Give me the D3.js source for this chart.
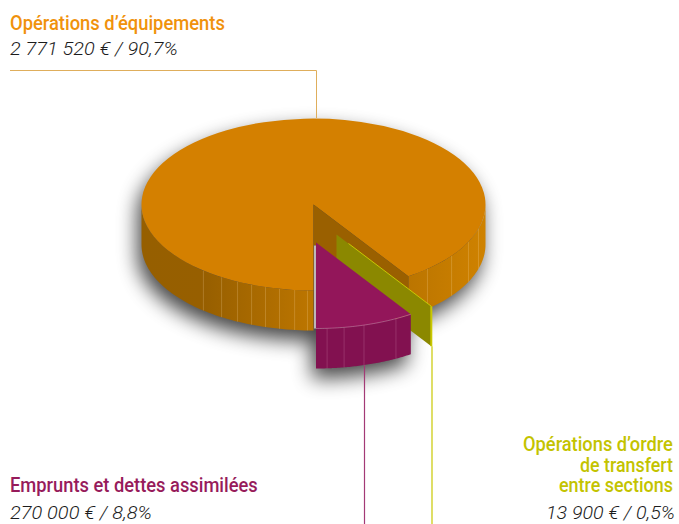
<!DOCTYPE html>
<html><head><meta charset="utf-8">
<script src="https://cdnjs.cloudflare.com/ajax/libs/d3/7.8.5/d3.min.js"></script>
<style>html,body{margin:0;background:#fff}svg{display:block}
text{font-family:Roboto,"Liberation Sans",sans-serif;font-weight:500}
.sub{font-family:Roboto,"Liberation Sans",sans-serif;font-style:italic;font-weight:300;font-size:19px;fill:#1c1c1c}</style>
</head><body><svg id="c" width="679" height="524"></svg>
<script>
// data
const categories = ["Opérations d’équipements","Opérations d’ordre de transfert entre sections","Emprunts et dettes assimilées"];
const values = [2771520, 13900, 270000];
const amountLabels = ["2 771 520 € / 90,7%","13 900 € / 0,5%","270 000 € / 8,8%"];
const orangeFacetsLeft = [219.8,212.3,206.2,201.1,196.2,191.4,186.3,182];
const orangeFacetsRight = [138.5,126.6,115.7,106.4];
const purpleFacets = [176.3,170.6,163.8,152.3];

const W=679,H=524,cx=313.5,cy=204.5,rx=172,ry=86,depth=40;
const off={orange:[0,0],green:[23,30],purple:[2.5,38]};
const svg=d3.select("#c");
const defs=svg.append("defs");
defs.append("filter").attr("id","blur").attr("x","-20%").attr("y","-20%").attr("width","140%").attr("height","140%")
  .append("feGaussianBlur").attr("stdDeviation",10);
const grad=(id,x1,x2,stops)=>{const g=defs.append("linearGradient").attr("id",id).attr("gradientUnits","userSpaceOnUse")
  .attr("x1",x1).attr("x2",x2).attr("y1",0).attr("y2",0);
  stops.forEach(([o,c])=>g.append("stop").attr("offset",o).attr("stop-color",c));};
grad("sideL",cx-rx,cx,[[0,"#965f00"],[.37,"#975f00"],[1,"#bd7600"]]);
grad("sideR",cx+95,cx+rx,[[0,"#bb7500"],[1,"#cf8200"]]);

const rad=d=>d*Math.PI/180;
const pie=d3.pie().sort(null).startAngle(Math.PI).endAngle(3*Math.PI);
const [oA,gA,pA]=pie(values);
const arc=d3.arc().innerRadius(0).outerRadius(rx);
const pt=(a,o,dy=0)=>[cx+o[0]+rx*Math.sin(a),cy+o[1]-ry*Math.cos(a)+dy];
const line=d3.line();
const samples=(a0,a1,o,dy)=>d3.range(0,61).map(i=>pt(a0+(a1-a0)*i/60,o,dy));
const sidePath=(a0,a1,o)=>line([...samples(a0,a1,o,0),...samples(a1,a0,o,depth)])+"Z";
const topG=(parent,o)=>parent.append("g").attr("transform",`translate(${cx+o[0]},${cy+o[1]}) scale(1,${ry/rx})`);

const oEnd=oA.endAngle-2*Math.PI;
// purple spans from the wall of the orange slice to the south radius
const purpleArc={startAngle:oEnd,endAngle:Math.PI};

// shadow
const sh=svg.append("g").attr("filter","url(#blur)").attr("transform","translate(-4,10)").attr("opacity",.72);
sh.append("path").attr("fill","#000").attr("d",line([...samples(Math.PI/2,3*Math.PI/2,off.orange,depth),...samples(3*Math.PI/2,5*Math.PI/2,off.orange,0)])+"Z");
sh.append("path").attr("fill","#000").attr("d",line([pt(oEnd,off.purple),...samples(oEnd,Math.PI,off.purple,depth),pt(Math.PI,off.purple)])+"Z");

// orange side
const side=svg.append("g");
side.append("path").attr("fill","url(#sideR)").attr("d",sidePath(Math.PI/2,oEnd,off.orange));
side.append("path").attr("fill","url(#sideL)").attr("d",sidePath(Math.PI,3*Math.PI/2,off.orange));
const fac=(angles,o,col)=>svg.append("g").selectAll("line").data(angles).join("line")
  .attr("x1",d=>pt(rad(d),o)[0]).attr("x2",d=>pt(rad(d),o)[0])
  .attr("y1",d=>pt(rad(d),o)[1]).attr("y2",d=>pt(rad(d),o,depth)[1])
  .attr("stroke",col).attr("stroke-width",.8);
fac(orangeFacetsLeft,off.orange,"rgba(255,225,170,.28)");
fac(orangeFacetsRight,off.orange,"rgba(255,225,170,.28)");

// orange top
topG(svg,off.orange).append("path").attr("fill","#d48000").attr("d",arc(oA));

// orange inner wall
const wall=(a,o)=>line([[cx+o[0],cy+o[1]],pt(a,o),pt(a,o,depth),[cx+o[0],cy+o[1]+depth]])+"Z";
svg.append("path").attr("fill","#9a6000").attr("d",wall(oEnd,off.orange));

// green wall and its thin top
svg.append("path").attr("fill","#8b8800").attr("d",wall(oEnd,off.green));
svg.append("line").attr("stroke","#c9c800").attr("stroke-width",1)
  .attr("x1",cx+off.green[0]+12).attr("y1",cy+off.green[1]+9).attr("x2",pt(oEnd,off.green)[0]).attr("y2",pt(oEnd,off.green)[1]);
svg.append("line").attr("stroke","#c9c800").attr("stroke-width",2)
  .attr("x1",pt(oEnd,off.green)[0]).attr("y1",pt(oEnd,off.green)[1]).attr("x2",pt(oEnd,off.green)[0]).attr("y2",pt(oEnd,off.green,depth)[1]);

// purple
svg.append("path").attr("fill","#821150").attr("d",sidePath(oEnd,Math.PI,off.purple));
fac(purpleFacets,off.purple,"rgba(255,200,225,.22)");
topG(svg,off.purple).append("path").attr("fill","#93165a").attr("d",arc(purpleArc));
svg.append("path").attr("fill","none").attr("stroke","rgba(255,190,220,.45)").attr("stroke-width",.8)
  .attr("d",line(samples(oEnd,Math.PI,off.purple,0)));
// pale strip between orange and purple
svg.append("line").attr("stroke","#bdb6ba").attr("stroke-width",2)
  .attr("x1",cx+off.purple[0]-1).attr("x2",cx+off.purple[0]-1)
  .attr("y1",cy+off.purple[1]+3).attr("y2",cy+off.purple[1]+ry);

// leader lines
const leaders=svg.append("g").attr("fill","none");
leaders.append("path").attr("stroke","#dfae5c").attr("stroke-width",1).attr("d",line([[10,70.5],[316.5,70.5],[316.5,118]]));
leaders.append("path").attr("stroke","#a33a76").attr("stroke-width",1.2).attr("d",line([[364.5,pt(rad(163.8),off.purple,depth)[1]],[364.5,H]]));
leaders.append("path").attr("stroke","#c9c800").attr("stroke-width",1.2).attr("d",line([[432,pt(oEnd,off.green,depth)[1]],[432,H]]));

// labels: each is condensed horizontally to its measured width in the reference
const T=(s,x,y,len,col,cls)=>{const t=svg.append("text").text(s);
  if(cls)t.attr("class",cls); else t.attr("fill",col).attr("font-size",21);
  const k=len/t.node().getComputedTextLength();
  t.attr("transform",`translate(${x},${y}) scale(${k},1)`);return t;};
T(categories[0],10,30,215,"#f0920c");
T(amountLabels[0],10,55,168,null,"sub");
T(categories[2],10,492,248,"#971b5b");
T(amountLabels[2],10,519,142,null,"sub");
const gLines=["Opérations d’ordre","de transfert","entre sections"];
T(gLines[0],523,451,150,"#c3c300");
T(gLines[1],580,472,93,"#c3c300");
T(gLines[2],559,492,114,"#c3c300");
T(amountLabels[1],546,519,129,null,"sub");
</script></body></html>
